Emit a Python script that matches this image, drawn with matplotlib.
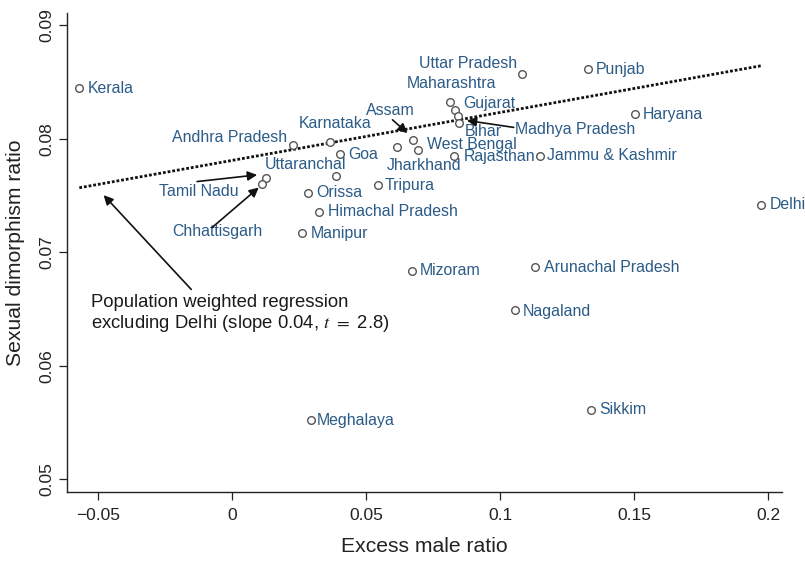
import matplotlib
matplotlib.use('Agg')
import matplotlib.pyplot as plt
import matplotlib.transforms as mtransforms
import numpy as np

plt.rcParams['font.family'] = ['Liberation Sans', 'DejaVu Sans']
plt.rcParams['mathtext.fontset'] = 'stix'

# data
states = ['Kerala', 'Andhra Pradesh', 'Karnataka', 'Goa', 'Uttaranchal',
          'Tamil Nadu', 'Chhattisgarh', 'Orissa', 'Himachal Pradesh', 'Manipur',
          'Tripura', 'Assam', 'West Bengal', 'Jharkhand', 'Rajasthan',
          'Jammu & Kashmir', 'Uttar Pradesh', 'Punjab', 'Maharashtra', 'Gujarat',
          'Madhya Pradesh', 'Bihar', 'Haryana', 'Mizoram', 'Arunachal Pradesh',
          'Nagaland', 'Sikkim', 'Meghalaya', 'Delhi']
excess_male = [-0.0570, 0.0227, 0.0365, 0.0402, 0.0386,
               0.0128, 0.0112, 0.0283, 0.0326, 0.0259,
               0.0543, 0.0675, 0.0695, 0.0614, 0.0828,
               0.1149, 0.1081, 0.1328, 0.0812, 0.0831,
               0.0843, 0.0848, 0.1503, 0.0670, 0.1130,
               0.1054, 0.1338, 0.0295, 0.1974]
dimorphism = [0.08445, 0.07942, 0.07974, 0.07868, 0.07672,
              0.07659, 0.07604, 0.07524, 0.07357, 0.07174,
              0.07589, 0.07992, 0.07904, 0.07924, 0.07848,
              0.07853, 0.08575, 0.08616, 0.08325, 0.08257,
              0.08204, 0.08139, 0.08219, 0.06838, 0.06868,
              0.06492, 0.05612, 0.05521, 0.07418]

slope = 0.0423
intercept = 0.0781

# label placement (offset in points, horizontal alignment)
label_pos = {
    'Kerala': (6.3, 0, 'left'), 'Andhra Pradesh': (-4.5, 5.8, 'right'),
    'Karnataka': (4.1, 13.5, 'center'), 'Goa': (6.3, -0.7, 'left'),
    'Uttaranchal': (7.9, 8.6, 'right'), 'Tamil Nadu': (-49, -10.1, 'center'),
    'Chhattisgarh': (-32.4, -34.3, 'center'), 'Orissa': (6, 0, 'left'),
    'Himachal Pradesh': (6.1, 0, 'left'), 'Manipur': (6.5, -0.7, 'left'),
    'Tripura': (5, 0, 'left'), 'Assam': (-16, 21.1, 'center'),
    'West Bengal': (6.5, 3.6, 'left'), 'Jharkhand': (-7.2, -13.2, 'left'),
    'Rajasthan': (6.8, 0, 'left'), 'Jammu & Kashmir': (5, 0, 'left'),
    'Uttar Pradesh': (-3.1, 7.2, 'right'), 'Punjab': (5.8, 0, 'left'),
    'Maharashtra': (1.4, 13.2, 'center'), 'Gujarat': (6.3, 4.8, 'left'),
    'Madhya Pradesh': (40.8, -10.1, 'left'), 'Bihar': (3.8, -6, 'left'),
    'Haryana': (5.8, 0, 'left'), 'Mizoram': (6, 0, 'left'),
    'Arunachal Pradesh': (6.3, 0, 'left'), 'Nagaland': (6, -1.4, 'left'),
    'Sikkim': (6.2, 0, 'left'), 'Meghalaya': (4.3, -0.7, 'left'),
    'Delhi': (6.5, 0, 'left'),
}
# arrows: tail offset, tip offset (points, from the state's point)
arrows = {
    'Tamil Nadu': ((-49.9, -2.9), (-6.7, 1.9)),
    'Chhattisgarh': ((-36, -31.5), (-2.4, -2.7)),
    'Assam': ((-14.8, 14.4), (-4, 4.8)),
    'Madhya Pradesh': ((40.1, -8.4), (6.3, -3.4)),
}

label_color = '#2b5b87'

fig = plt.figure(figsize=(8.05, 5.61), dpi=100)
ax = fig.add_axes([0.0832, 0.1235, 0.888, 0.8533])

ax.plot(excess_male, dimorphism, 'o', ms=5.5, mfc='white', mec='#555555', mew=1.0,
        zorder=3)

xl = np.array([min(excess_male), max(excess_male)])
ax.plot(xl, intercept + slope * xl, color='#111111', lw=2.0,
        linestyle=(0, (1, 0.7)), dash_capstyle='butt', zorder=2)

for name, x, y in zip(states, excess_male, dimorphism):
    dx, dy, ha = label_pos[name]
    ax.annotate(name, (x, y), xytext=(dx, dy), textcoords='offset points',
                ha=ha, va='center', fontsize=11.4, color=label_color)


def draw_arrow(x, y, tail, tip):
    tip_tr = mtransforms.offset_copy(ax.transData, fig, x=tip[0], y=tip[1], units='points')
    tail_tr = mtransforms.offset_copy(ax.transData, fig, x=tail[0], y=tail[1], units='points')
    ax.annotate('', xy=(x, y), xycoords=tip_tr, xytext=(x, y), textcoords=tail_tr,
                arrowprops=dict(arrowstyle='-|>', color='#111111', lw=1.2,
                                mutation_scale=14, shrinkA=0, shrinkB=0))


for name, (tail, tip) in arrows.items():
    i = states.index(name)
    draw_arrow(excess_male[i], dimorphism[i], tail, tip)

# regression note
x0, y0 = xl[0], intercept + slope * xl[0]
draw_arrow(x0, y0, (80.6, -73.2), (17.5, -5.3))
ax.annotate('Population weighted regression\n'
            'excluding Delhi (slope 0.04, $t$ $=$ 2.8)',
            (x0, y0), xytext=(8.4, -76.5), textcoords='offset points',
            ha='left', va='top', fontsize=13.3, color='#1a1a1a', linespacing=1.1)

ax.set_xlim(-0.0616, 0.2051)
ax.set_ylim(0.04888, 0.0911)
ax.set_xticks([-0.05, 0, 0.05, 0.1, 0.15, 0.2])
ax.set_xticklabels(['\u22120.05', '0', '0.05', '0.1', '0.15', '0.2'])
ax.set_yticks([0.05, 0.06, 0.07, 0.08, 0.09])
ax.set_yticklabels(['0.05', '0.06', '0.07', '0.08', '0.09'])

for s in ['top', 'right']:
    ax.spines[s].set_visible(False)
for s in ['left', 'bottom']:
    ax.spines[s].set_linewidth(1.0)
    ax.spines[s].set_color('#222222')

ax.tick_params(axis='both', length=5.8, width=0.9, color='#222222',
               labelsize=12.5, labelcolor='#222222')
ax.tick_params(axis='x', pad=6)
ax.tick_params(axis='y', pad=3.5)
for lab in ax.get_yticklabels():
    lab.set_rotation(90)
    lab.set_va('center')

ax.set_xlabel('Excess male ratio', fontsize=15.2, color='#222222')
ax.set_ylabel('Sexual dimorphism ratio', fontsize=15.2, color='#222222')
ax.xaxis.set_label_coords(0.5, -0.0946)
ax.yaxis.set_label_coords(-0.0587, 0.5)

fig.savefig('out.png', dpi=100)
